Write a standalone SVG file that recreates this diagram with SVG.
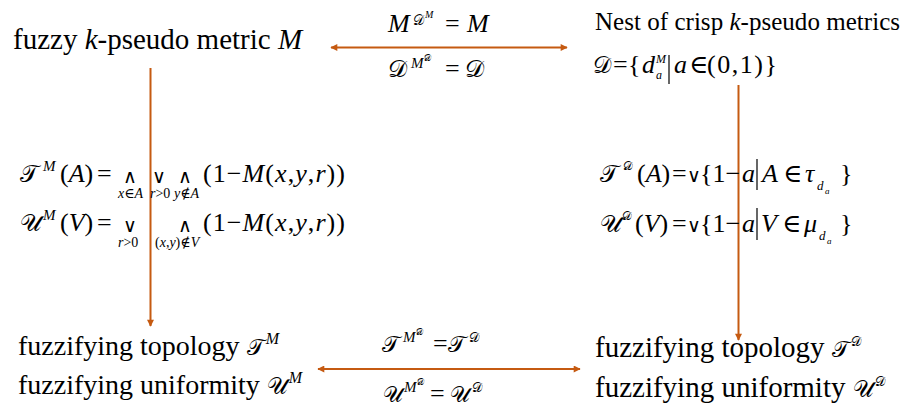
<svg xmlns="http://www.w3.org/2000/svg" width="907" height="408" viewBox="0 0 907 408">
<style>
text{font-family:"Liberation Serif","Times New Roman","DejaVu Serif",serif;fill:#000}
.i{font-style:italic}
.n{font-style:normal}
.c{font-family:"DejaVu Serif","DejaVu Sans","Noto Sans",serif;font-style:normal}
.op{font-family:"DejaVu Serif",serif;font-style:normal;font-size:19px}
.a{stroke:#C55A11;stroke-width:2;fill:none}
.bar{stroke:#000;stroke-width:1.2}
</style>
<defs>
<marker id="ah" viewBox="0 0 10 10" refX="9" refY="5" markerWidth="9" markerHeight="7" markerUnits="userSpaceOnUse" orient="auto-start-reverse"><path d="M0,0 L10,5 L0,10 z" fill="#C55A11"/></marker>
</defs>
<g id="connectors">
<line class="a" x1="331" y1="47.5" x2="567" y2="47.5" marker-start="url(#ah)" marker-end="url(#ah)"/>
<line class="a" x1="318" y1="369" x2="580" y2="369" marker-start="url(#ah)" marker-end="url(#ah)"/>
<line class="a" x1="150.5" y1="68" x2="150.5" y2="326" marker-end="url(#ah)"/>
<line class="a" x1="738.5" y1="85" x2="738.5" y2="340" marker-end="url(#ah)"/>
</g>
<g id="fuzzy-metric">
<text x="13" y="49" font-size="29">fuzzy <tspan class="i">k</tspan>-pseudo metric <tspan class="i">M</tspan></text>
</g>
<g id="label-top">
<text font-size="26" y="32"><tspan class="i" x="388">M</tspan><tspan class="c" x="413" y="25" font-size="14">𝒟</tspan><tspan class="i" x="425" y="18" font-size="10">M</tspan><tspan x="445" y="32">=</tspan><tspan class="i" x="467">M</tspan></text>
<text font-size="26" y="77"><tspan class="c" x="388" font-size="24">𝒟</tspan><tspan class="i" x="411" y="68" font-size="15">M</tspan><tspan class="c" x="424" y="61" font-size="9">𝒟</tspan><tspan x="445" y="77">=</tspan><tspan class="c" x="465" font-size="24">𝒟</tspan></text>
</g>
<g id="crisp-nest">
<text x="595" y="30" font-size="25" textLength="305" lengthAdjust="spacing">Nest of crisp <tspan class="i">k</tspan>-pseudo metrics</text>
<text font-size="26" y="73"><tspan class="c" x="593" font-size="23">𝒟</tspan><tspan x="613">=</tspan><tspan x="628">{</tspan><tspan class="i" x="642">d</tspan><tspan class="i" x="656" y="63" font-size="12">M</tspan><tspan class="i" x="656" y="79" font-size="12">a</tspan><tspan class="i" x="674" y="73">a</tspan><tspan x="689">∈</tspan><tspan x="707" textLength="70" lengthAdjust="spacing">(0,1)}</tspan></text>
<line class="bar" x1="669" y1="55" x2="669" y2="84"/>
</g>
<g id="formulas-left">
<text font-size="26" y="182"><tspan class="c" x="20" font-size="24">𝒯</tspan><tspan class="i" x="43" y="171" font-size="15">M</tspan><tspan x="60" y="182">(</tspan><tspan class="i">A</tspan><tspan>)</tspan><tspan x="97">=</tspan><tspan class="op" x="123" y="183">∧</tspan><tspan class="op" x="152">∨</tspan><tspan class="op" x="178">∧</tspan><tspan x="203" y="182" textLength="142" lengthAdjust="spacing">(1−<tspan class="i">M</tspan>(<tspan class="i">x</tspan>,<tspan class="i">y</tspan>,<tspan class="i">r</tspan>))</tspan></text>
<text font-size="14" class="i" y="198"><tspan x="118">x</tspan><tspan class="n">∈</tspan><tspan>A</tspan><tspan x="150">r</tspan><tspan class="n">&gt;0</tspan><tspan x="174">y</tspan><tspan class="n">∉</tspan><tspan>A</tspan></text>
<text font-size="26" y="231"><tspan class="c" x="20" font-size="24">𝒰</tspan><tspan class="i" x="43" y="220" font-size="15">M</tspan><tspan x="60" y="231">(</tspan><tspan class="i">V</tspan><tspan>)</tspan><tspan x="97">=</tspan><tspan class="op" x="123" y="232">∨</tspan><tspan class="op" x="178">∧</tspan><tspan x="203" y="231" textLength="142" lengthAdjust="spacing">(1−<tspan class="i">M</tspan>(<tspan class="i">x</tspan>,<tspan class="i">y</tspan>,<tspan class="i">r</tspan>))</tspan></text>
<text font-size="14" class="i" y="247"><tspan x="118">r</tspan><tspan class="n">&gt;0</tspan><tspan x="155" class="n">(</tspan><tspan>x</tspan><tspan class="n">,</tspan><tspan>y</tspan><tspan class="n">)∉</tspan><tspan>V</tspan></text>
</g>
<g id="formulas-right">
<text font-size="26" y="182"><tspan class="c" x="600" font-size="24">𝒯</tspan><tspan class="c" x="623" y="170" font-size="12">𝒟</tspan><tspan x="637" y="182">(</tspan><tspan class="i">A</tspan><tspan>)</tspan><tspan x="672">=</tspan><tspan class="op" x="687">∨</tspan><tspan x="700">{1−</tspan><tspan class="i" x="742">a</tspan><tspan class="i" x="762">A</tspan><tspan x="783">∈</tspan><tspan class="i" x="805">τ</tspan><tspan class="i" x="817" y="190" font-size="13">d</tspan><tspan class="i" x="825" y="194" font-size="9">a</tspan><tspan x="840" y="182">}</tspan></text>
<line class="bar" x1="757" y1="159" x2="757" y2="190"/>
<text font-size="26" y="232"><tspan class="c" x="600" font-size="24">𝒰</tspan><tspan class="c" x="622" y="220" font-size="12">𝒟</tspan><tspan x="635" y="232">(</tspan><tspan class="i">V</tspan><tspan>)</tspan><tspan x="672">=</tspan><tspan class="op" x="687">∨</tspan><tspan x="700">{1−</tspan><tspan class="i" x="742">a</tspan><tspan class="i" x="761">V</tspan><tspan x="782">∈</tspan><tspan class="i" x="804">μ</tspan><tspan class="i" x="819" y="240" font-size="13">d</tspan><tspan class="i" x="827" y="244" font-size="9">a</tspan><tspan x="840" y="232">}</tspan></text>
<line class="bar" x1="757" y1="208" x2="757" y2="240"/>
</g>
<g id="fuzzifying-M">
<text x="18" y="355" font-size="28">fuzzifying topology <tspan class="c" font-size="23">𝒯</tspan><tspan class="i" dx="1" dy="-11" font-size="16">M</tspan></text>
<text x="18" y="394" font-size="28">fuzzifying uniformity <tspan class="c" font-size="23">𝒰</tspan><tspan class="i" dx="1" dy="-11" font-size="16">M</tspan></text>
</g>
<g id="label-bottom">
<text font-size="26" y="352"><tspan class="c" x="382" font-size="23">𝒯</tspan><tspan class="i" x="403" y="342" font-size="15">M</tspan><tspan class="c" x="416" y="335" font-size="9">𝒟</tspan><tspan x="433" y="352">=</tspan><tspan class="c" x="448" font-size="23">𝒯</tspan><tspan class="c" x="469" y="342" font-size="13">𝒟</tspan></text>
<text font-size="26" y="402"><tspan class="c" x="383" font-size="22">𝒰</tspan><tspan class="i" x="404" y="392" font-size="15">M</tspan><tspan class="c" x="417" y="385" font-size="9">𝒟</tspan><tspan x="430" y="402">=</tspan><tspan class="c" x="450" font-size="22">𝒰</tspan><tspan class="c" x="472" y="392" font-size="13">𝒟</tspan></text>
</g>
<g id="fuzzifying-D">
<text x="595" y="357" font-size="29">fuzzifying topology <tspan class="c" font-size="23">𝒯</tspan><tspan class="c" dx="1" dy="-11" font-size="13">𝒟</tspan></text>
<text x="595" y="397" font-size="29">fuzzifying uniformity <tspan class="c" font-size="23">𝒰</tspan><tspan class="c" dx="1" dy="-11" font-size="13">𝒟</tspan></text>
</g>
</svg>
